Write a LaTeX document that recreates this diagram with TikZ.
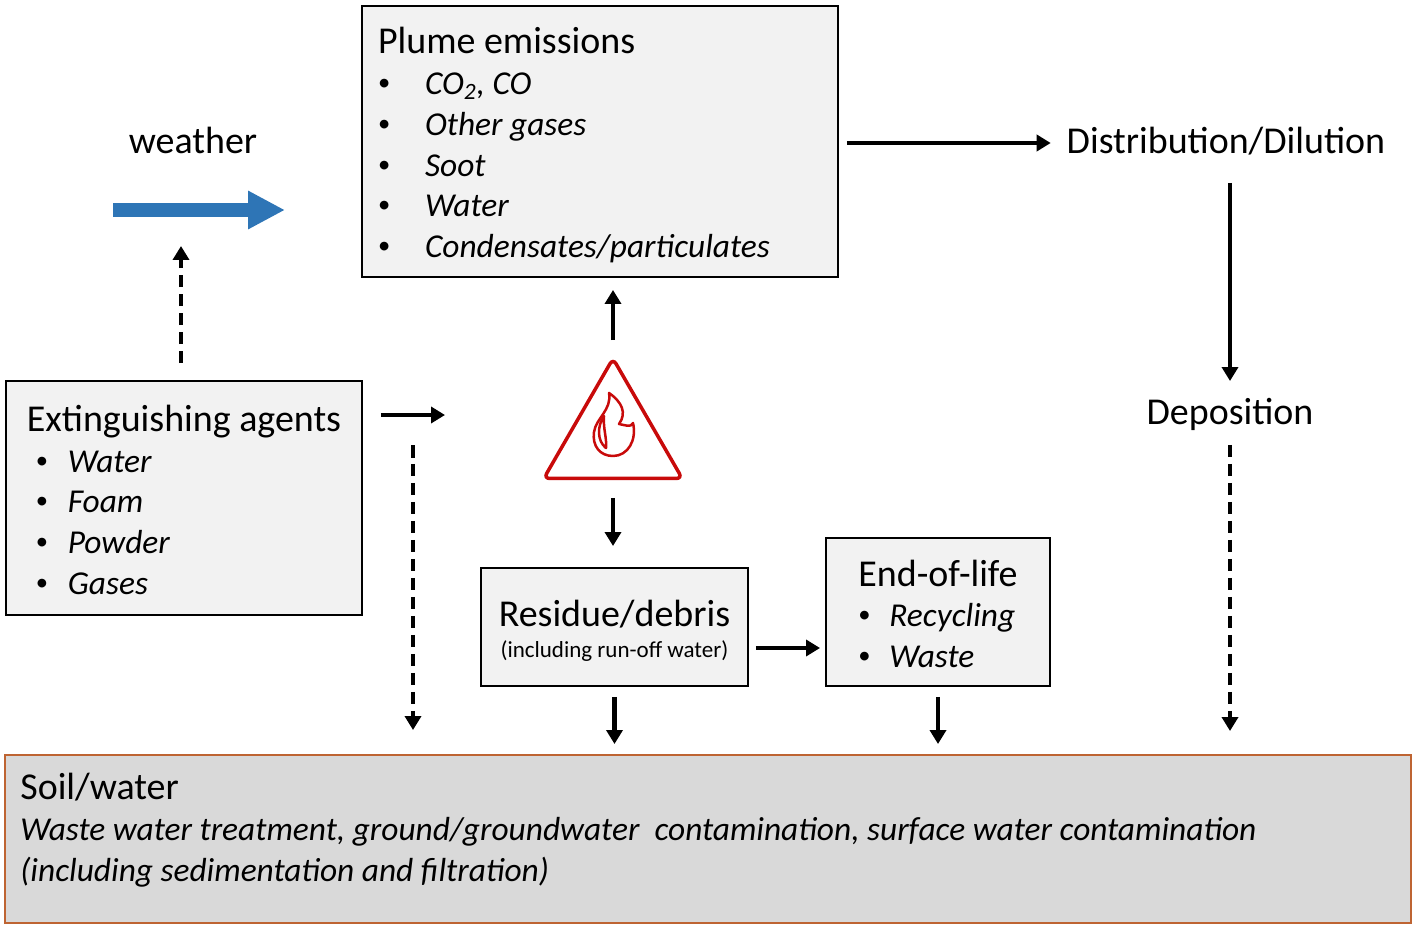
\documentclass[tikz,border=0pt]{standalone}
\usepackage{fontspec}
\setmainfont{Carlito}
\usetikzlibrary{positioning}
\usetikzlibrary{arrows.meta, shapes.geometric}

\definecolor{boxgray}{RGB}{242,242,242}
\definecolor{soilgray}{RGB}{217,217,217}
\definecolor{soilbrown}{RGB}{190,100,50}
\definecolor{windblue}{RGB}{46,117,182}
\definecolor{firered}{RGB}{200,10,10}

\newcommand{\bigtext}{\fontsize{21.6}{23.2}\selectfont}
\newcommand{\smalltext}{\fontsize{13.1}{15.7}\selectfont}
\newcommand{\ittext}[1]{{\fontsize{19}{23.2}\selectfont\itshape #1}}
\newcommand{\topstrut}[1][0.68cm]{\rule{0pt}{#1}}
\newcommand{\dotmark}{\raisebox{0.08cm}{\fontsize{14}{14}\selectfont\textbullet}}
\newcommand{\itembul}[3]{\hspace*{#1}\makebox[#2][l]{\dotmark}\ittext{#3}}

\begin{document}
\begin{tikzpicture}[x=0.02cm,y=-0.02cm,
  box/.style={draw=black,line width=1.4pt,fill=boxgray,outer sep=0pt,inner ysep=0pt,align=left,font=\bigtext},
  wordnode/.style={inner sep=0pt,outer sep=0pt,text height=0.52cm,text depth=0.08cm,font=\bigtext},
  arr/.style={line width=2.5pt,-{Triangle[length=0.28cm,width=0.32cm]}},
  darr/.style={arr,dash pattern=on 0.25cm off 0.13cm}]
\useasboundingbox (0,0) rectangle (1416,929);

\node[box,minimum width=9.52cm,minimum height=5.42cm] (plume) at (600,141.5) {\makebox[8.88cm][l]{\topstrut Plume emissions}\\
\itembul{0cm}{0.94cm}{CO\textsubscript{2}, CO}\\
\itembul{0cm}{0.94cm}{Other gases}\\
\itembul{0cm}{0.94cm}{Soot}\\
\itembul{0cm}{0.94cm}{Water}\\
\itembul{0cm}{0.94cm}{Condensates/particulates}};
\node[box,minimum width=7.12cm,minimum height=4.68cm] (ext) at (184,498) {\topstrut[0.6cm]Extinguishing agents\\
\itembul{0.18cm}{0.64cm}{Water}\\
\itembul{0.18cm}{0.64cm}{Foam}\\
\itembul{0.18cm}{0.64cm}{Powder}\\
\itembul{0.18cm}{0.64cm}{Gases}};
\node[box,align=center,minimum width=5.34cm,minimum height=2.36cm] (res) at (614.5,627) {\topstrut Residue/debris\\[-0.2cm]{\smalltext (including run-off water)}};
\node[box,minimum width=4.48cm,minimum height=2.96cm] (eol) at (938,612) {\topstrut[0.6cm]End-of-life\\
\itembul{0cm}{0.62cm}{Recycling}\\
\itembul{0cm}{0.62cm}{Waste}};
\node[box,draw=soilbrown,fill=soilgray,line width=1.1pt,minimum width=28.12cm,minimum height=3.36cm] (soil) at (708,839) {};
\node[anchor=north west,align=left,inner sep=0pt,font=\bigtext] (soiltext) at (20,773) {Soil/water\\
\ittext{Waste water treatment, ground/groundwater~ contamination, surface water contamination}\\
\ittext{(including sedimentation and filtration)}};

\node[wordnode,anchor=base] (weather) at (193,154) {weather};
\node[wordnode,anchor=base] (dist) at (1226,154) {Distribution/Dilution};
\node[wordnode,anchor=base] (dep) at (1230,424) {Deposition};

\node[regular polygon,regular polygon sides=3,minimum size=3.2cm,inner sep=0pt,outer sep=0pt,draw=firered,line width=0.07cm,rounded corners=0.12cm] (fire) at (613,438.5) {};
\draw[firered,line width=0.05cm,line join=round] (613,456) .. controls (600,456) and (592,446) .. (594,432) .. controls (596,418) and (612,410) .. (609,393) .. controls (622,402) and (627,413) .. (619,424) .. controls (625,425) and (631,428) .. (633,423) .. controls (637,440) and (628,456) .. (613,456) -- cycle;
\draw[firered,line width=0.05cm,line join=round] (606,448) .. controls (597,441) and (597,426) .. (604,416) .. controls (603,429) and (607,438) .. (606,448) -- cycle;

\coordinate (windstart) at (113,210);
\coordinate (windend) at (285,210);
\draw[windblue,line width=0.28cm,-{Triangle[length=0.74cm,width=0.72cm]}] (windstart) -- (windend);

\coordinate (weatherin) at (181,246);
\coordinate (extout) at (445,415);
\coordinate (extdown) at (413,445);
\coordinate (resout) at ([yshift=-0.42cm]res.east);

\draw[darr,shorten <=0.36cm] (weatherin |- ext.north) -- (weatherin);
\draw[arr,shorten <=0.38cm] (extout -| ext.east) -- (extout);
\draw[darr,shorten >=0.5cm] (extdown) -- (extdown |- soil.north);
\draw[arr,shorten <=0.37cm,shorten >=0.26cm] (fire.corner 1) -- (fire.corner 1 |- plume.south);
\draw[arr,shorten <=0.39cm,shorten >=0.44cm] (fire.side 2) -- (fire.side 2 |- res.north);
\draw[arr,shorten <=0.22cm,shorten >=0.22cm] (res.south) -- (res.south |- soil.north);
\draw[arr,shorten <=0.22cm,shorten >=0.22cm] (eol.south) -- (eol.south |- soil.north);
\draw[arr,shorten <=0.16cm,shorten >=0.12cm] (resout) -- (resout -| eol.west);
\draw[arr,shorten <=0.18cm,shorten >=0.32cm] (plume.east |- dist.west) -- (dist.west);
\draw[arr,shorten <=0.5cm,shorten >=0.34cm] (dep.north |- dist.south) -- (dep.north);
\draw[darr,shorten <=0.34cm,shorten >=0.48cm] (dep.south) -- (dep.south |- soil.north);

\end{tikzpicture}
\end{document}
